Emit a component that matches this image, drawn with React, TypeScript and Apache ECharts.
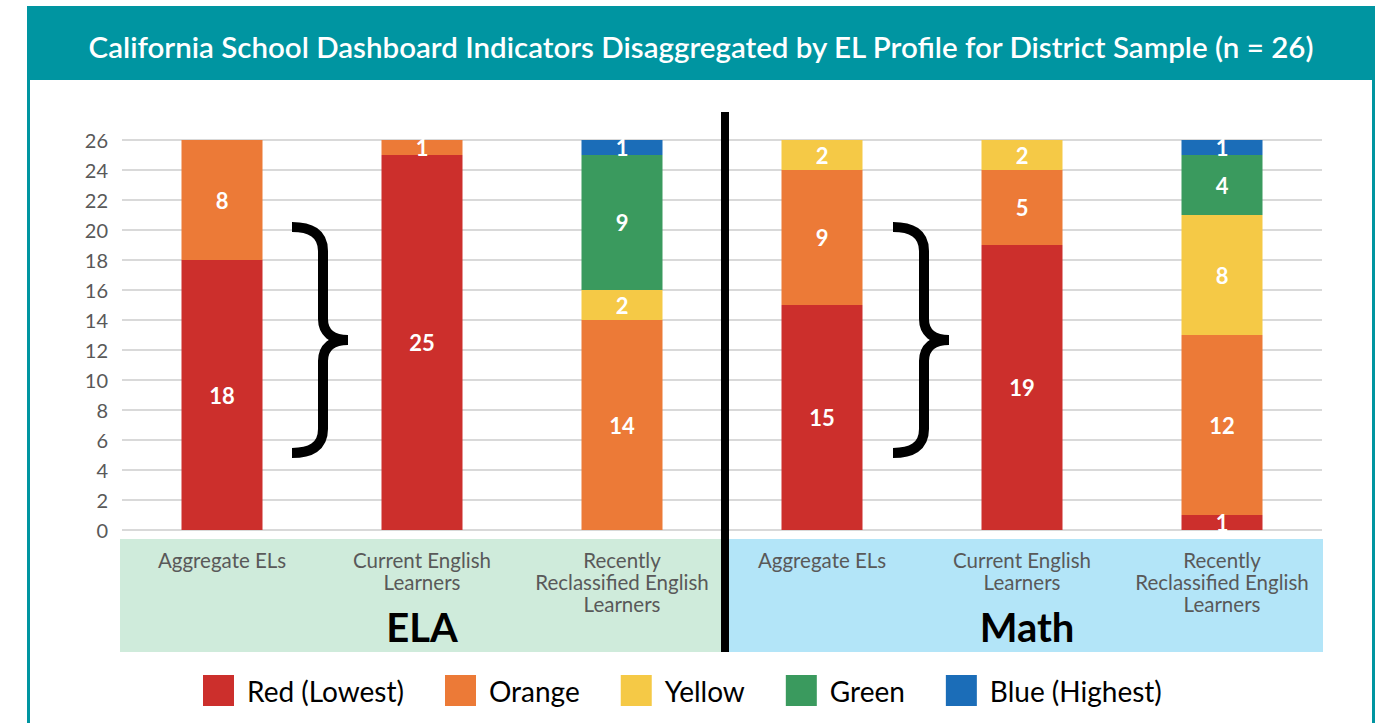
import React, { useEffect, useRef } from "react";
import * as echarts from "echarts";

const titleText =
  "California School Dashboard Indicators Disaggregated by EL Profile for District Sample (n = 26)";
const categories = [
  "Aggregate ELs",
  "Current English\nLearners",
  "Recently\nReclassified English\nLearners",
  "Aggregate ELs",
  "Current English\nLearners",
  "Recently\nReclassified English\nLearners",
];
const seriesNames = ["Red (Lowest)", "Orange", "Yellow", "Green", "Blue (Highest)"];
const seriesColors = ["#CC2F2C", "#EC7A37", "#F5C946", "#3A9A5E", "#1B6DB8"];
const redValues = [18, 25, null, 15, 19, 1];
const orangeValues = [8, 1, 14, 9, 5, 12];
const yellowValues = [null, null, 2, 2, 2, 8];
const greenValues = [null, null, 9, null, null, 4];
const blueValues = [null, null, 1, null, null, 1];
const yTicks = { min: 0, max: 26, interval: 2 };
const groupLabels = ["ELA", "Math"];

const FONT = "Lato, 'Noto Sans', sans-serif";

const bracePath =
  "M0 0 C18 0 31 6 31 24 L31 92 C31 105 40 113 56 113 C40 113 31 121 31 134 L31 202 C31 220 18 226 0 226";
echarts.graphic.registerShape("brace", echarts.graphic.extendPath(bracePath, {}) as any);

export default function App() {
  const ref = useRef<HTMLDivElement>(null);
  useEffect(() => {
    if (!ref.current) return;
    const chart = echarts.init(ref.current, null, { renderer: "svg" });
    const allValues = [redValues, orangeValues, yellowValues, greenValues, blueValues];
    const series = seriesNames.map((name, i) => ({
      name,
      type: "bar",
      stack: "total",
      barWidth: 81,
      data: allValues[i],
      itemStyle: { color: seriesColors[i] },
      label: {
        show: true,
        position: "inside",
        color: "#fff",
        fontSize: 22,
        fontWeight: "bold",
        fontFamily: FONT,
      },
      z: 3,
    }));
    chart.setOption({
      animation: false,
      backgroundColor: "#fff",
      title: {
        text: titleText,
        left: 701,
        textAlign: "center",
        top: 31,
        padding: 0,
        textStyle: { color: "#fff", fontSize: 29.5, fontWeight: 600, fontFamily: FONT },
        z: 10,
      },
      grid: { left: 122, right: 63, top: 140, bottom: 193, containLabel: false },
      xAxis: {
        type: "category",
        data: categories,
        axisLine: { show: false },
        axisTick: { show: false },
        axisLabel: {
          margin: 19,
          color: "#595959",
          fontSize: 20.5,
          lineHeight: 22,
          fontFamily: FONT,
          interval: 0,
        },
        z: 5,
      },
      yAxis: {
        type: "value",
        min: yTicks.min,
        max: yTicks.max,
        interval: yTicks.interval,
        axisLabel: { color: "#595959", fontSize: 20, fontFamily: FONT, margin: 14 },
        splitLine: { lineStyle: { color: "#D9D9D9", width: 2 } },
        axisLine: { show: false },
        axisTick: { show: false },
      },
      legend: {
        data: seriesNames,
        left: 203,
        top: 675,
        padding: 0,
        itemWidth: 31,
        itemHeight: 31,
        itemGap: 41,
        icon: "rect",
        textStyle: { color: "#000", fontSize: 28, fontFamily: FONT, padding: [0, 0, 0, 8] },
      },
      series,
      graphic: [
        { type: "rect", z: -5, shape: { x: 27, y: 6, width: 1348, height: 74 }, style: { fill: "#0095A1" }, silent: true },
        { type: "rect", z: -5, shape: { x: 27, y: 79, width: 3, height: 650 }, style: { fill: "#0095A1" }, silent: true },
        { type: "rect", z: -5, shape: { x: 1372, y: 79, width: 3, height: 650 }, style: { fill: "#0095A1" }, silent: true },
        { type: "rect", z: -5, shape: { x: 120, y: 539, width: 601, height: 113 }, style: { fill: "#CFEBDB" }, silent: true },
        { type: "rect", z: -5, shape: { x: 729, y: 539, width: 594, height: 113 }, style: { fill: "#B3E5F8" }, silent: true },
        { type: "rect", z: 20, shape: { x: 721, y: 112, width: 8, height: 540 }, style: { fill: "#000" }, silent: true },
        { type: "brace", z: 20, x: 292, y: 227, style: { fill: "none", stroke: "#000", lineWidth: 10 }, silent: true },
        { type: "brace", z: 20, x: 893, y: 227, style: { fill: "none", stroke: "#000", lineWidth: 10 }, silent: true },
        {
          type: "text", z: 20, x: 422, y: 627,
          style: { text: groupLabels[0], fill: "#000", fontSize: 40, fontWeight: "bold", fontFamily: FONT, textAlign: "center", textVerticalAlign: "middle" },
        },
        {
          type: "text", z: 20, x: 1027, y: 627,
          style: { text: groupLabels[1], fill: "#000", fontSize: 40, fontWeight: "bold", fontFamily: FONT, textAlign: "center", textVerticalAlign: "middle" },
        },
      ],
    });
    return () => chart.dispose();
  }, []);
  return (
    <div
      ref={ref}
      style={{ position: "fixed", left: 0, top: 0, width: 1385, height: 723 }}
    />
  );
}
